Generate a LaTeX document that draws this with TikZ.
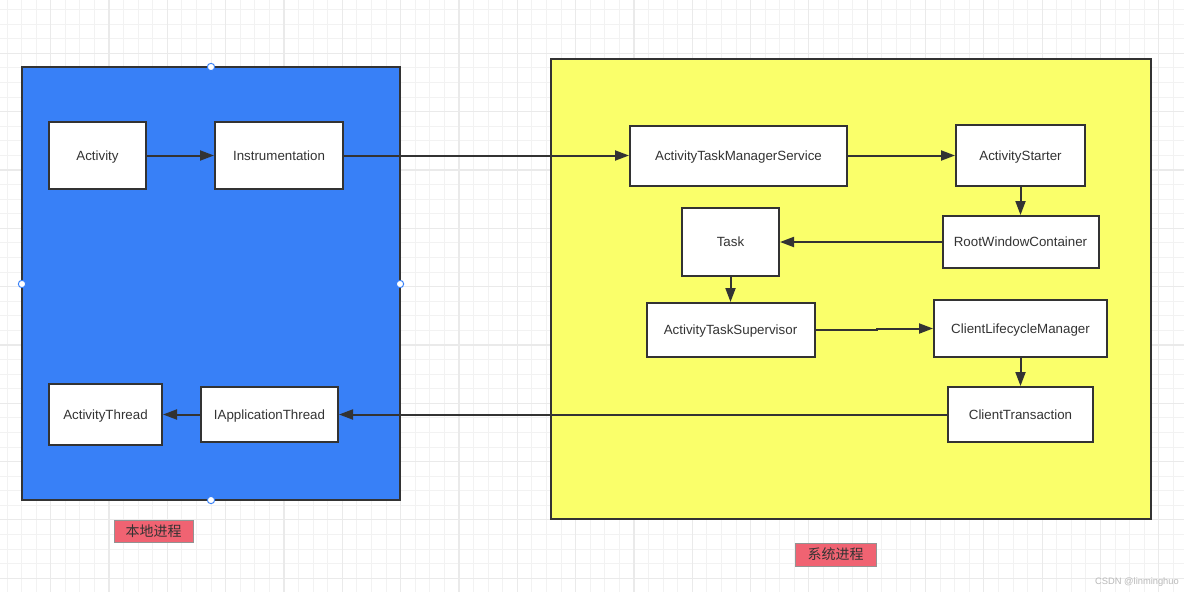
\documentclass[tikz,border=0pt]{standalone}
\usepackage{fontspec}
\setmainfont{Liberation Sans}
\newfontfamily\cjk{Noto Sans CJK SC}
\usepackage{xcolor}
\usetikzlibrary{arrows.meta}

\definecolor{bluebg}{RGB}{56,128,247}
\definecolor{yellowbg}{RGB}{250,255,106}
\definecolor{tagred}{RGB}{240,99,114}
\definecolor{ink}{RGB}{51,51,51}
\definecolor{gridminor}{RGB}{242,242,242}
\definecolor{gridmajor}{RGB}{234,234,234}

\begin{document}
\begin{tikzpicture}[x=0.75pt,y=-0.75pt,
  box/.style={draw=ink,fill=white,line width=1.5pt,inner sep=0pt,text=ink,
    text height=7.2pt,text depth=0pt,font=\fontsize{10}{12}\selectfont},
  link/.style={draw=ink,line width=1.5pt,-{Triangle[length=10.5pt,width=7.5pt]}},
  tag/.style={draw=gray!85,fill=tagred,line width=0.75pt,inner sep=0pt,text=ink,font=\cjk\fontsize{10.5}{12}\selectfont},
  handle/.style={circle,draw=bluebg,fill=white,line width=0.75pt,inner sep=0pt,minimum size=5.5pt}]
\useasboundingbox (0,0) rectangle (1184,592);
\fill[white] (0,0) rectangle (1184,592);

% grid
\foreach \i in {0,...,81}{
  \pgfmathsetmacro{\gx}{7+14.58*\i}
  \draw[gridminor,line width=0.75pt] (\gx,0) -- (\gx,592);
}
\foreach \i in {0,...,40}{
  \pgfmathsetmacro{\gy}{9.6+14.58*\i}
  \draw[gridminor,line width=0.75pt] (0,\gy) -- (1184,\gy);
}
\foreach \i in {0,...,20}{
  \pgfmathsetmacro{\gx}{50.7+58.32*\i}
  \draw[gridmajor,line width=0.9pt] (\gx,0) -- (\gx,592);
}
\foreach \i in {0,...,10}{
  \pgfmathsetmacro{\gy}{53.3+58.32*\i}
  \draw[gridmajor,line width=0.9pt] (0,\gy) -- (1184,\gy);
}

% the two processes
\draw[ink,fill=bluebg,line width=1.5pt] (22,67) rectangle (400,500);
\draw[ink,fill=yellowbg,line width=1.5pt] (551,59) rectangle (1151,519);
\node[handle] (h1) at (211,67) {};
\node[handle] (h2) at (22,284) {};
\node[handle] (h3) at (400,284) {};
\node[handle] (h4) at (211,500) {};

% local process
\node[box,minimum width=72.75pt,minimum height=50.25pt] (act) at (97.5,155.5) {Activity};
\node[box,minimum width=96pt,minimum height=50.25pt] (ins) at (279,155.5) {Instrumentation};
\node[box,minimum width=84.75pt,minimum height=45.75pt] (thr) at (105.5,414.5) {ActivityThread};
\node[box,minimum width=102.75pt,minimum height=41.25pt] (iapp) at (269.5,414.5) {IApplicationThread};

% system process
\node[box,minimum width=162.75pt,minimum height=45pt] (atms) at (738.5,155.5) {ActivityTaskManagerService};
\node[box,minimum width=96.75pt,minimum height=45.75pt] (starter) at (1020.5,155.5) {ActivityStarter};
\node[box,minimum width=72.75pt,minimum height=51pt] (task) at (730.5,242) {Task};
\node[box,minimum width=117pt,minimum height=39pt] (root) at (1020.5,242) {RootWindowContainer};
\node[box,minimum width=126pt,minimum height=40.5pt] (sup) at (730.5,330) {ActivityTaskSupervisor};
\node[box,minimum width=129.75pt,minimum height=42.75pt] (clm) at (1020.5,328.5) {ClientLifecycleManager};
\node[box,minimum width=108.75pt,minimum height=41.25pt] (trans) at (1020.5,414.5) {ClientTransaction};

\node[tag,minimum width=59.25pt,minimum height=16.5pt] (local) at (153.5,531) {本地进程};
\node[tag,minimum width=60.75pt,minimum height=17.25pt] (system) at (835.5,554.5) {系统进程};

\draw[link] (act) -- (ins);
\draw[link] (ins) -- (atms);
\draw[link] (atms) -- (starter);
\draw[link] (starter) -- (root);
\draw[link] (root) -- (task);
\draw[link] (task) -- (sup);
\draw[link] (sup.east) -- ++(61,0) |- (clm.west);
\draw[link] (clm) -- (trans);
\draw[link] (trans) -- (iapp);
\draw[link] (iapp) -- (thr);

\node[text=gray!55,font=\fontsize{7}{8}\selectfont] (mark) at (1137,582) {CSDN @linminghuo};
\end{tikzpicture}
\end{document}
